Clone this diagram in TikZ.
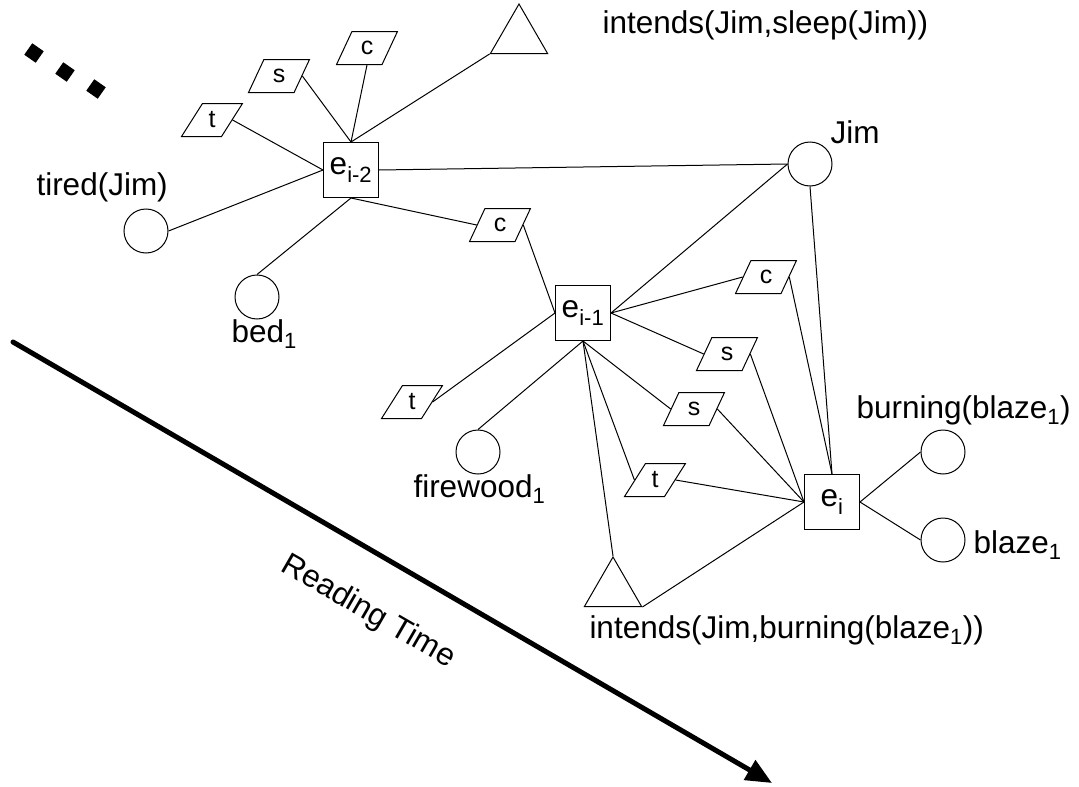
\documentclass[tikz,border=0pt]{standalone}
\usepackage{fontspec}
\setmainfont{Liberation Sans}
\usetikzlibrary{shapes.geometric,arrows.meta}
\renewcommand{\normalsize}{\fontsize{31.5}{37}\selectfont}
\renewcommand{\small}{\fontsize{25}{30}\selectfont}

\begin{document}
\begin{tikzpicture}[x=1pt,y=-1pt,line width=1pt,
  ev/.style={draw,rectangle,minimum size=55pt,inner sep=0pt,font=\normalsize},
  ent/.style={draw,circle,minimum size=44pt,inner sep=0pt},
  rel/.style={draw,trapezium,trapezium left angle=65,trapezium right angle=115,
    trapezium stretches=true,minimum width=61pt,minimum height=33pt,inner sep=0pt,font=\small},
  prop/.style={draw,regular polygon,regular polygon sides=3,minimum size=66pt,inner sep=0pt},
  txt/.style={anchor=base west,inner sep=0pt,font=\normalsize},
  dot/.style={fill=black,rectangle,minimum size=14pt,inner sep=0pt,rotate=-35}]
  \useasboundingbox (0,0) rectangle (1079,787);

  % --- Eventos ---
  \node[ev] (ev2) at (351,170) {e\textsubscript{i-2}};
  \node[ev] (ev1) at (583,313) {e\textsubscript{i-1}};
  \node[ev] (ev0) at (832,502) {e\textsubscript{i}};

  % --- Entidades ---
  \node[ent] (tired) at (146,231) {};
  \node[ent] (bed) at (257,297) {};
  \node[ent] (jim) at (810,164) {};
  \node[ent] (firewood) at (478,452) {};
  \node[ent] (burning) at (943,452) {};
  \node[ent] (blaze) at (943,540) {};

  % --- Intenciones ---
  \node[prop] (sleepint) at (519,37) {};
  \node[prop] (burnint) at (613,590) {};

  % --- Relaciones t/s/c ---
  \node[rel] (tA) at (212,120) {t};
  \node[rel] (sA) at (279,76) {s};
  \node[rel] (cA) at (367,48) {c};
  \node[rel] (cB) at (500,225) {c};
  \node[rel] (tB) at (412,402) {t};
  \node[rel] (cC) at (766,277) {c};
  \node[rel] (sB) at (727,354) {s};
  \node[rel] (sC) at (694,409) {s};
  \node[rel] (tC) at (655,480) {t};

  % --- Etiquetas ---
  \node[txt] (lsleep) at (602,33) {intends(Jim,sleep(Jim))};
  \node[txt] (ltired) at (36,195) {tired(Jim)};
  \node[txt] (lbed) at (231,342) {bed\textsubscript{1}};
  \node[txt] (ljim) at (830,143) {Jim};
  \node[txt] (lfirewood) at (413,497) {firewood\textsubscript{1}};
  \node[txt] (lburning) at (856,418) {burning(blaze\textsubscript{1})};
  \node[txt] (lblaze) at (973,553) {blaze\textsubscript{1}};
  \node[txt] (lburnint) at (589,638) {intends(Jim,burning(blaze\textsubscript{1}))};

  % --- Puntos suspensivos ---
  \node[dot] (d1) at (34,53) {};
  \node[dot] (d2) at (65,72) {};
  \node[dot] (d3) at (96,89) {};

  % --- Aristas de e_{i-2} ---
  \draw (tA.east) -- (ev2.west);
  \draw (sA.east) -- (ev2.north);
  \draw (cA.south) -- (ev2.north);
  \draw (sleepint.corner 2) -- (ev2.north);
  \draw (tired.east) -- (ev2.west);
  \draw (bed.north) -- (ev2.south);
  \draw (ev2.south) -- (cB.west);
  \draw (ev2.east) -- (jim.west);

  % --- Aristas de e_{i-1} ---
  \draw (cB.east) -- (ev1.west);
  \draw (tB.east) -- (ev1.west);
  \draw (ev1.east) -- (jim.west);
  \draw (ev1.east) -- (cC.west);
  \draw (ev1.east) -- (sB.west);
  \draw (ev1.south) -- (firewood.north);
  \draw (ev1.south) -- (sC.west);
  \draw (ev1.south) -- (tC.west);
  \draw (ev1.south) -- (burnint.corner 1);

  % --- Aristas de e_i ---
  \draw (jim.south) -- (ev0.north);
  \draw (cC.east) -- (ev0.north);
  \draw (sB.east) -- (ev0.west);
  \draw (sC.east) -- (ev0.west);
  \draw (tC.east) -- (ev0.west);
  \draw (burnint.corner 3) -- (ev0.west);
  \draw (ev0.east) -- (burning.west);
  \draw (ev0.east) -- (blaze.west);

  % --- Flecha del tiempo de lectura ---
  \coordinate (tstart) at (13,342);
  \coordinate (tend) at (772,783);
  \draw[line width=5pt,line cap=round,-{Triangle[length=26pt,width=22pt]}] (tstart) -- (tend);
  \node[font=\normalsize,rotate=-30] (ltime) at (368,612) {Reading Time};
\end{tikzpicture}
\end{document}
